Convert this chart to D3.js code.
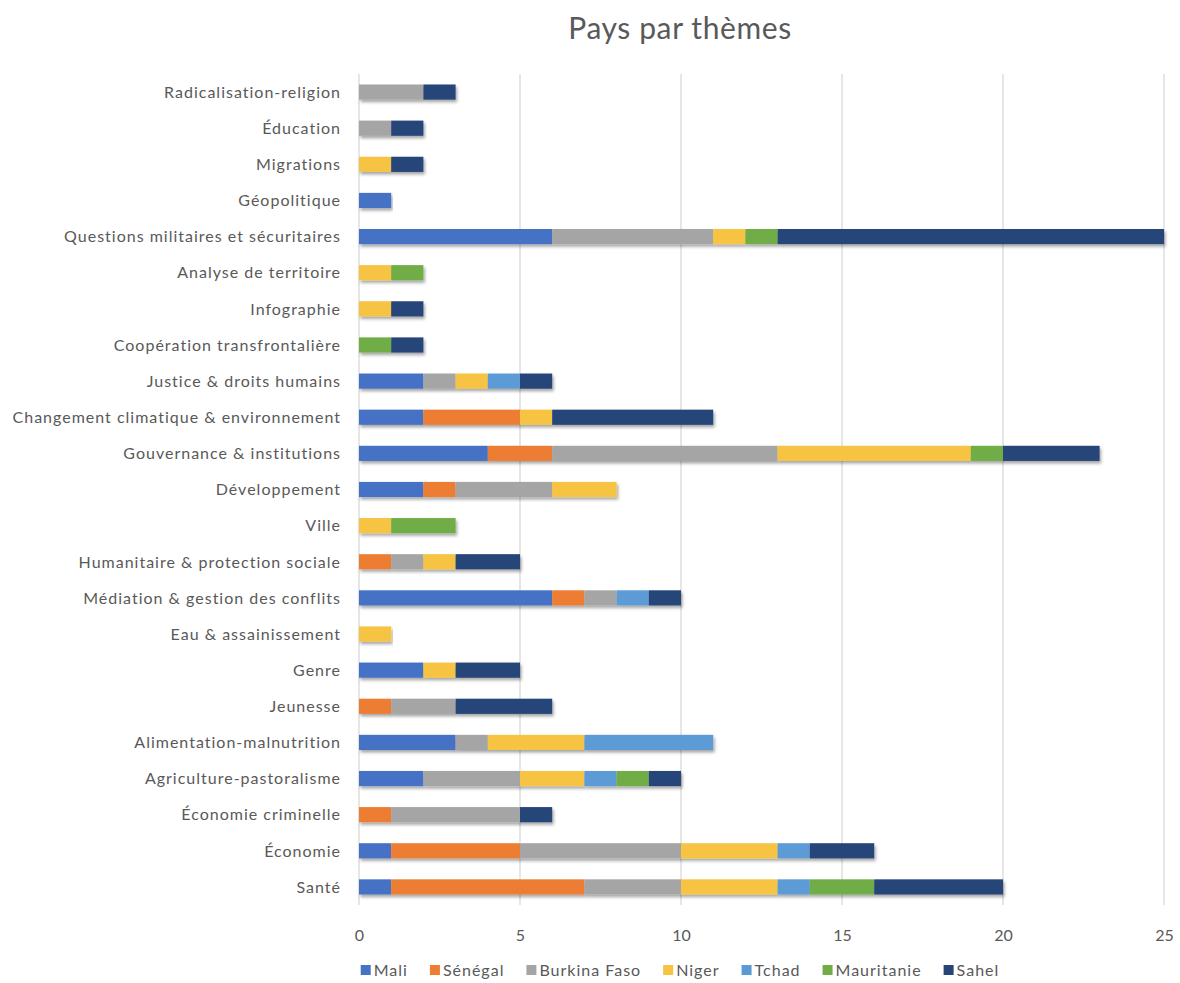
<!DOCTYPE html>
<html>
<head>
<meta charset="utf-8">
<script src="https://cdn.jsdelivr.net/npm/d3@7"></script>
<style>
  body { margin: 0; background: #fff; }
  svg { font-family: Lato, "Open Sans", sans-serif; }
</style>
</head>
<body>
<svg id="chart"></svg>
<script>
const themes = [
  "Radicalisation-religion", "Éducation", "Migrations", "Géopolitique",
  "Questions militaires et sécuritaires", "Analyse de territoire", "Infographie",
  "Coopération transfrontalière", "Justice & droits humains",
  "Changement climatique & environnement", "Gouvernance & institutions",
  "Développement", "Ville", "Humanitaire & protection sociale",
  "Médiation & gestion des conflits", "Eau & assainissement", "Genre", "Jeunesse",
  "Alimentation-malnutrition", "Agriculture-pastoralisme", "Économie criminelle",
  "Économie", "Santé"
]
const countries = ["Mali", "Sénégal", "Burkina Faso", "Niger", "Tchad", "Mauritanie", "Sahel"]
const colors = ["#4472C4", "#ED7D31", "#A5A5A5", "#F6C342", "#5B9BD5", "#70AD47", "#264478"]

// one array per country, same order as themes
const mali       = [0,0,0,1,6,0,0,0,2,2,4,2,0,0,6,0,2,0,3,2,0,1,1]
const senegal    = [0,0,0,0,0,0,0,0,0,3,2,1,0,1,1,0,0,1,0,0,1,4,6]
const burkina    = [2,1,0,0,5,0,0,0,1,0,7,3,0,1,1,0,0,2,1,3,4,5,3]
const niger      = [0,0,1,0,1,1,1,0,1,1,6,2,1,1,0,1,1,0,3,2,0,3,3]
const tchad      = [0,0,0,0,0,0,0,0,1,0,0,0,0,0,1,0,0,0,4,1,0,1,1]
const mauritanie = [0,0,0,0,1,1,0,1,0,0,1,0,2,0,0,0,0,0,0,1,0,0,2]
const sahel      = [1,1,1,0,12,0,1,1,1,5,3,0,0,2,1,0,2,3,0,1,1,2,4]
const xTicks = [0, 5, 10, 15, 20, 25]

const series = [mali, senegal, burkina, niger, tchad, mauritanie, sahel]

const width = 1180, height = 983
const margin = {top: 74, right: 16, bottom: 78, left: 359}
const textColor = "#595959"
const labelSize = 16
const spacing = "1px"

const svg = d3.select("#chart").attr("width", width).attr("height", height)

// soft shadow under the bars, like the office chart
const defs = svg.append("defs")
const f = defs.append("filter").attr("id", "shadow")
  .attr("x", "-5%").attr("y", "-40%").attr("width", "110%").attr("height", "200%")
f.append("feDropShadow").attr("dx", 1.5).attr("dy", 2.5).attr("stdDeviation", 1.6)
  .attr("flood-color", "#000").attr("flood-opacity", 0.35)

const rows = themes.map((t, i) => {
  const r = {theme: t}
  countries.forEach((c, j) => { r[c] = series[j][i] })
  return r
})
const stacked = d3.stack().keys(countries)(rows)

const x = d3.scaleLinear().domain([0, 25]).range([margin.left, 1164])
const y = d3.scaleBand().domain(themes).range([margin.top, height - margin.bottom]).paddingInner(0.58).paddingOuter(0.29)

svg.append("text")
  .attr("x", 680).attr("y", 39)
  .attr("text-anchor", "middle")
  .attr("fill", textColor)
  .attr("font-size", 30)
  .attr("letter-spacing", "0.6px")
  .text("Pays par thèmes")

// gridlines
svg.append("g")
  .selectAll("line")
  .data(xTicks)
  .join("line")
  .attr("x1", d => x(d)).attr("x2", d => x(d))
  .attr("y1", margin.top).attr("y2", height - margin.bottom)
  .attr("stroke", "#d9d9d9").attr("stroke-width", 1.3)

// bars
const barsG = svg.append("g")
themes.forEach((t, i) => {
  barsG.append("g").attr("class", "row").attr("filter", "url(#shadow)")
    .selectAll("rect")
    .data(stacked.map((s, j) => ({s: s[i], color: colors[j]})).filter(d => d.s[1] > d.s[0]))
    .join("rect")
    .attr("x", d => x(d.s[0]))
    .attr("width", d => x(d.s[1]) - x(d.s[0]))
    .attr("y", y(t))
    .attr("height", y.bandwidth())
    .attr("fill", d => d.color)
})

// category labels
svg.append("g")
  .selectAll("text")
  .data(themes)
  .join("text")
  .attr("x", 341)
  .attr("y", d => y(d) + y.bandwidth() / 2)
  .attr("dy", "0.36em")
  .attr("text-anchor", "end")
  .attr("fill", textColor)
  .attr("font-size", labelSize)
  .attr("letter-spacing", spacing)
  .text(d => d)

// x axis labels
const xAxis = svg.append("g")
  .attr("transform", `translate(0, ${height - margin.bottom + 25})`)
  .call(d3.axisBottom(x).tickValues(xTicks).tickSize(0).tickPadding(0))
xAxis.select(".domain").remove()
xAxis.selectAll("text").attr("fill", textColor).attr("font-size", labelSize)
  .attr("font-family", "Lato, 'Open Sans', sans-serif")

// legend
const legend = svg.append("g")
const items = legend.selectAll("g").data(countries).join("g")
items.append("rect").attr("width", 10).attr("height", 10).attr("y", -6)
  .attr("fill", (d, i) => colors[i])
items.append("text").attr("x", 13).attr("y", 0).attr("dy", "0.32em")
  .attr("fill", textColor).attr("font-size", labelSize).attr("letter-spacing", spacing)
  .text(d => d)
const gap = 22
let pos = 0
items.each(function() {
  const w = this.getBBox().width
  d3.select(this).attr("data-x", pos)
  pos += w + gap
})
const total = pos - gap
const start = 680 - total / 2
items.attr("transform", function() { return `translate(${start + (+d3.select(this).attr("data-x"))}, 971)` })
</script>
</body>
</html>
